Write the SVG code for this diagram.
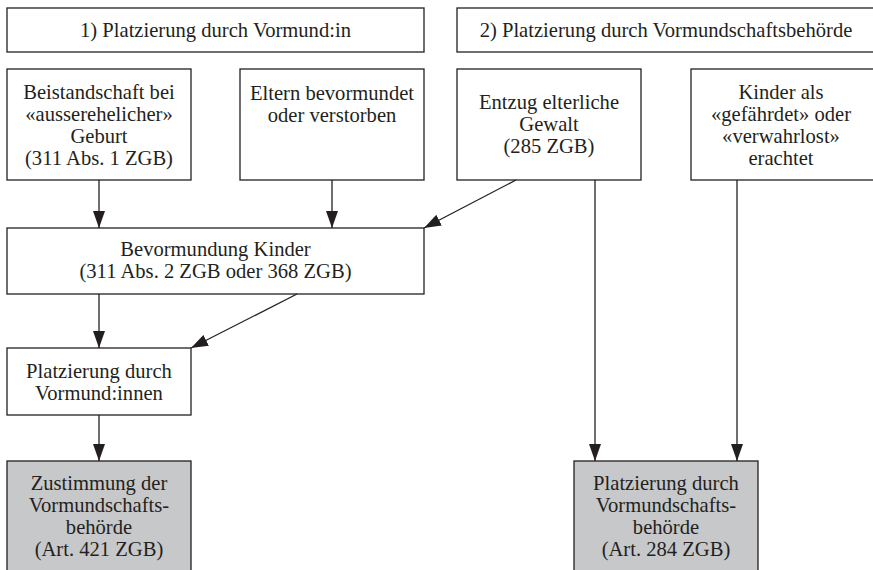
<svg xmlns="http://www.w3.org/2000/svg" width="873" height="570" viewBox="0 0 873 570">
<defs>
<style>
.box{fill:#ffffff;stroke:#231f20;stroke-width:1.3}
.gray{fill:#c7c8ca;stroke:#231f20;stroke-width:1.3}
text{font-family:"Liberation Serif","Times New Roman",serif;font-size:20.6px;fill:#231f20;text-anchor:middle}
.edge{stroke:#231f20;stroke-width:1.3;fill:none;marker-end:url(#arr)}
</style>
<marker id="arr" markerUnits="userSpaceOnUse" markerWidth="17" markerHeight="12" refX="17" refY="6" orient="auto">
<path d="M0,0 L17,6 L0,12 z" fill="#231f20"/>
</marker>
</defs>
<rect width="873" height="570" fill="#ffffff"/>

<g id="h1"><rect class="box" x="7" y="8" width="417" height="44"/><text x="215.5" y="37">1) Platzierung durch Vormund:in</text></g>
<g id="h2"><rect class="box" x="457" y="8" width="418" height="44"/><text x="666" y="37">2) Platzierung durch Vormundschaftsbehörde</text></g>

<g id="a"><rect class="box" x="7" y="69" width="184" height="111"/>
<text x="99" y="99">Beistandschaft bei</text><text x="99" y="121">«ausserehelicher»</text><text x="99" y="143">Geburt</text><text x="99" y="165">(311 Abs. 1 ZGB)</text></g>

<g id="b"><rect class="box" x="240" y="69" width="184" height="111"/>
<text x="332" y="100">Eltern bevormundet</text><text x="332" y="122">oder verstorben</text></g>

<g id="c"><rect class="box" x="457" y="69" width="184" height="111"/>
<text x="549" y="109">Entzug elterliche</text><text x="549" y="131">Gewalt</text><text x="549" y="153">(285 ZGB)</text></g>

<g id="d"><rect class="box" x="691" y="69" width="184" height="111"/>
<text x="781" y="99">Kinder als</text><text x="781" y="121">«gefährdet» oder</text><text x="781" y="143">«verwahrlost»</text><text x="781" y="165">erachtet</text></g>

<g id="bev"><rect class="box" x="7" y="228" width="417" height="66"/>
<text x="215.5" y="256">Bevormundung Kinder</text><text x="215.5" y="278">(311 Abs. 2 ZGB oder 368 ZGB)</text></g>

<g id="plv"><rect class="box" x="7" y="348" width="184" height="67"/>
<text x="99" y="378">Platzierung durch</text><text x="99" y="400">Vormund:innen</text></g>

<g id="zust"><rect class="gray" x="7" y="461" width="184" height="115"/>
<text x="99" y="490">Zustimmung der</text><text x="99" y="512">Vormundschafts-</text><text x="99" y="534">behörde</text><text x="99" y="556">(Art. 421 ZGB)</text></g>

<g id="plvb"><rect class="gray" x="574" y="461" width="184" height="115"/>
<text x="666" y="490">Platzierung durch</text><text x="666" y="512">Vormundschafts-</text><text x="666" y="534">behörde</text><text x="666" y="556">(Art. 284 ZGB)</text></g>

<g id="connectors">
<line class="edge" x1="99" y1="180" x2="99" y2="228"/>
<line class="edge" x1="332" y1="180" x2="332" y2="228"/>
<line class="edge" x1="516" y1="180" x2="424" y2="228"/>
<line class="edge" x1="99" y1="294" x2="99" y2="348"/>
<line class="edge" x1="297" y1="294" x2="191" y2="348"/>
<line class="edge" x1="99" y1="415" x2="99" y2="461"/>
<line class="edge" x1="595" y1="180" x2="595" y2="461"/>
<line class="edge" x1="737" y1="180" x2="737" y2="461"/>
</g>
</svg>
